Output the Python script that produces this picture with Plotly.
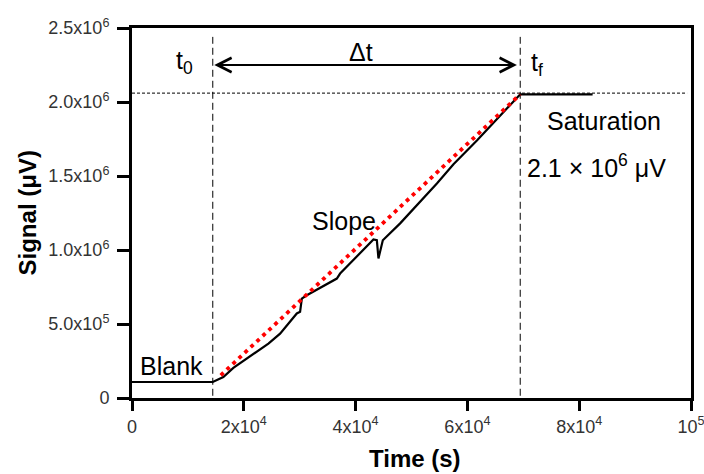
import plotly.graph_objects as go

# Detector trace: blank baseline, rising signal, saturation plateau
time_s = [0, 14450, 16340, 18130, 24400, 26490, 29480, 30070, 30380, 31270,
          36640, 37230, 43190, 43800, 44090, 44870, 47970, 54540, 57510,
          61700, 69450, 82400]
signal_uv = [108000, 108000, 142000, 203000, 368000, 435000, 571000, 582000,
             672000, 694000, 807000, 841000, 1071000, 1066000, 943000,
             1066000, 1180000, 1450000, 1580000, 1740000, 2052000, 2052000]

# Linear fit of the rising part
fit_time = [15880, 69450]
fit_signal = [153500, 2052000]

# Event times and reference levels
t_start = 14450
t_final = 69450
saturation_level = 2060000
arrow_level = 2250000
guide_top = 2440000
guide_bottom = 15000

x_tickvals = [0, 20000, 40000, 60000, 80000, 100000]
x_ticktext = ["0", "2x10<sup>4</sup>", "4x10<sup>4</sup>", "6x10<sup>4</sup>",
              "8x10<sup>4</sup>", "10<sup>5</sup>"]
y_tickvals = [0, 500000, 1000000, 1500000, 2000000, 2500000]
y_ticktext = ["0", "5.0x10<sup>5</sup>", "1.0x10<sup>6</sup>", "1.5x10<sup>6</sup>",
              "2.0x10<sup>6</sup>", "2.5x10<sup>6</sup>"]

FONT = "Liberation Sans, Arial, sans-serif"
LABEL_SIZE = 25

fig = go.Figure()

fig.add_trace(go.Scatter(
    x=time_s, y=signal_uv, mode="lines",
    line=dict(color="black", width=2.2), hoverinfo="skip", showlegend=False,
))
fig.add_trace(go.Scatter(
    x=fit_time, y=fit_signal, mode="lines",
    line=dict(color="#ff0000", width=3.8, dash="3.8px,4.4px"),
    hoverinfo="skip", showlegend=False,
))

# Dashed guides
for t in (t_start, t_final):
    fig.add_shape(type="line", xref="x", yref="y", x0=t, x1=t,
                  y0=guide_bottom, y1=guide_top,
                  line=dict(color="black", width=1, dash="7px,4px"), layer="below")
fig.add_shape(type="line", xref="x", yref="y", x0=0, x1=99300,
              y0=saturation_level, y1=saturation_level,
              line=dict(color="black", width=1, dash="3px,2px"), layer="below")

# Double-headed arrow for the interval
fig.add_annotation(
    x=68860, y=arrow_level, ax=t_start, ay=arrow_level,
    xref="x", yref="y", axref="x", ayref="y", text="",
    showarrow=True, arrowside="end+start", arrowhead=5, startarrowhead=5,
    arrowwidth=2, arrowsize=1.4, startarrowsize=1.4, arrowcolor="black",
)

labels = [
    ("Blank", 6980, 214000),
    ("Slope", 37950, 1195000),
    ("Δt", 41000, 2338000),
    ("Saturation", 84490, 1871000),
    ("2.1 × 10<sup>6</sup> μV", 83060, 1570000),
    ("t<sub>0</sub>", 9450, 2270000),
    ("t<sub>f</sub>", 72400, 2260000),
]
for text, x, y in labels:
    fig.add_annotation(x=x, y=y, xref="x", yref="y", text=text, showarrow=False,
                       xanchor="center", yanchor="middle",
                       font=dict(family=FONT, size=LABEL_SIZE, color="black"))

# Axis titles
fig.add_annotation(x=-0.187, y=0.5, xref="paper", yref="paper",
                   text="<b>Signal (μV)</b>", textangle=-90, showarrow=False,
                   xanchor="center", yanchor="middle",
                   font=dict(family=FONT, size=24, color="black"))
fig.add_annotation(x=0.507, y=-0.1645, xref="paper", yref="paper",
                   text="<b>Time (s)</b>", showarrow=False,
                   xanchor="center", yanchor="middle",
                   font=dict(family=FONT, size=24, color="black"))

tick_font = dict(family=FONT, size=18, color="#333333")

fig.update_xaxes(
    range=[0, 100000], tickvals=x_tickvals, ticktext=x_ticktext,
    ticks="outside", ticklen=10, tickwidth=3, tickcolor="black",
    showline=True, linewidth=3, linecolor="black", mirror=True,
    showgrid=False, zeroline=False, tickfont=tick_font, automargin=False,
    ticklabeloverflow="allow",
)
fig.update_yaxes(
    range=[0, 2500000], tickvals=y_tickvals, ticktext=y_ticktext,
    ticks="outside", ticklen=12, tickwidth=3, tickcolor="black",
    showline=True, linewidth=3, linecolor="black", mirror=True,
    showgrid=False, zeroline=False, tickfont=tick_font, automargin=False,
    ticklabelstandoff=4, ticklabeloverflow="allow",
)

fig.update_layout(
    width=704, height=474,
    margin=dict(l=132, r=13, t=28, b=76, autoexpand=False),
    paper_bgcolor="white", plot_bgcolor="white",
    font=dict(family=FONT),
)

fig.write_html("out.html")
